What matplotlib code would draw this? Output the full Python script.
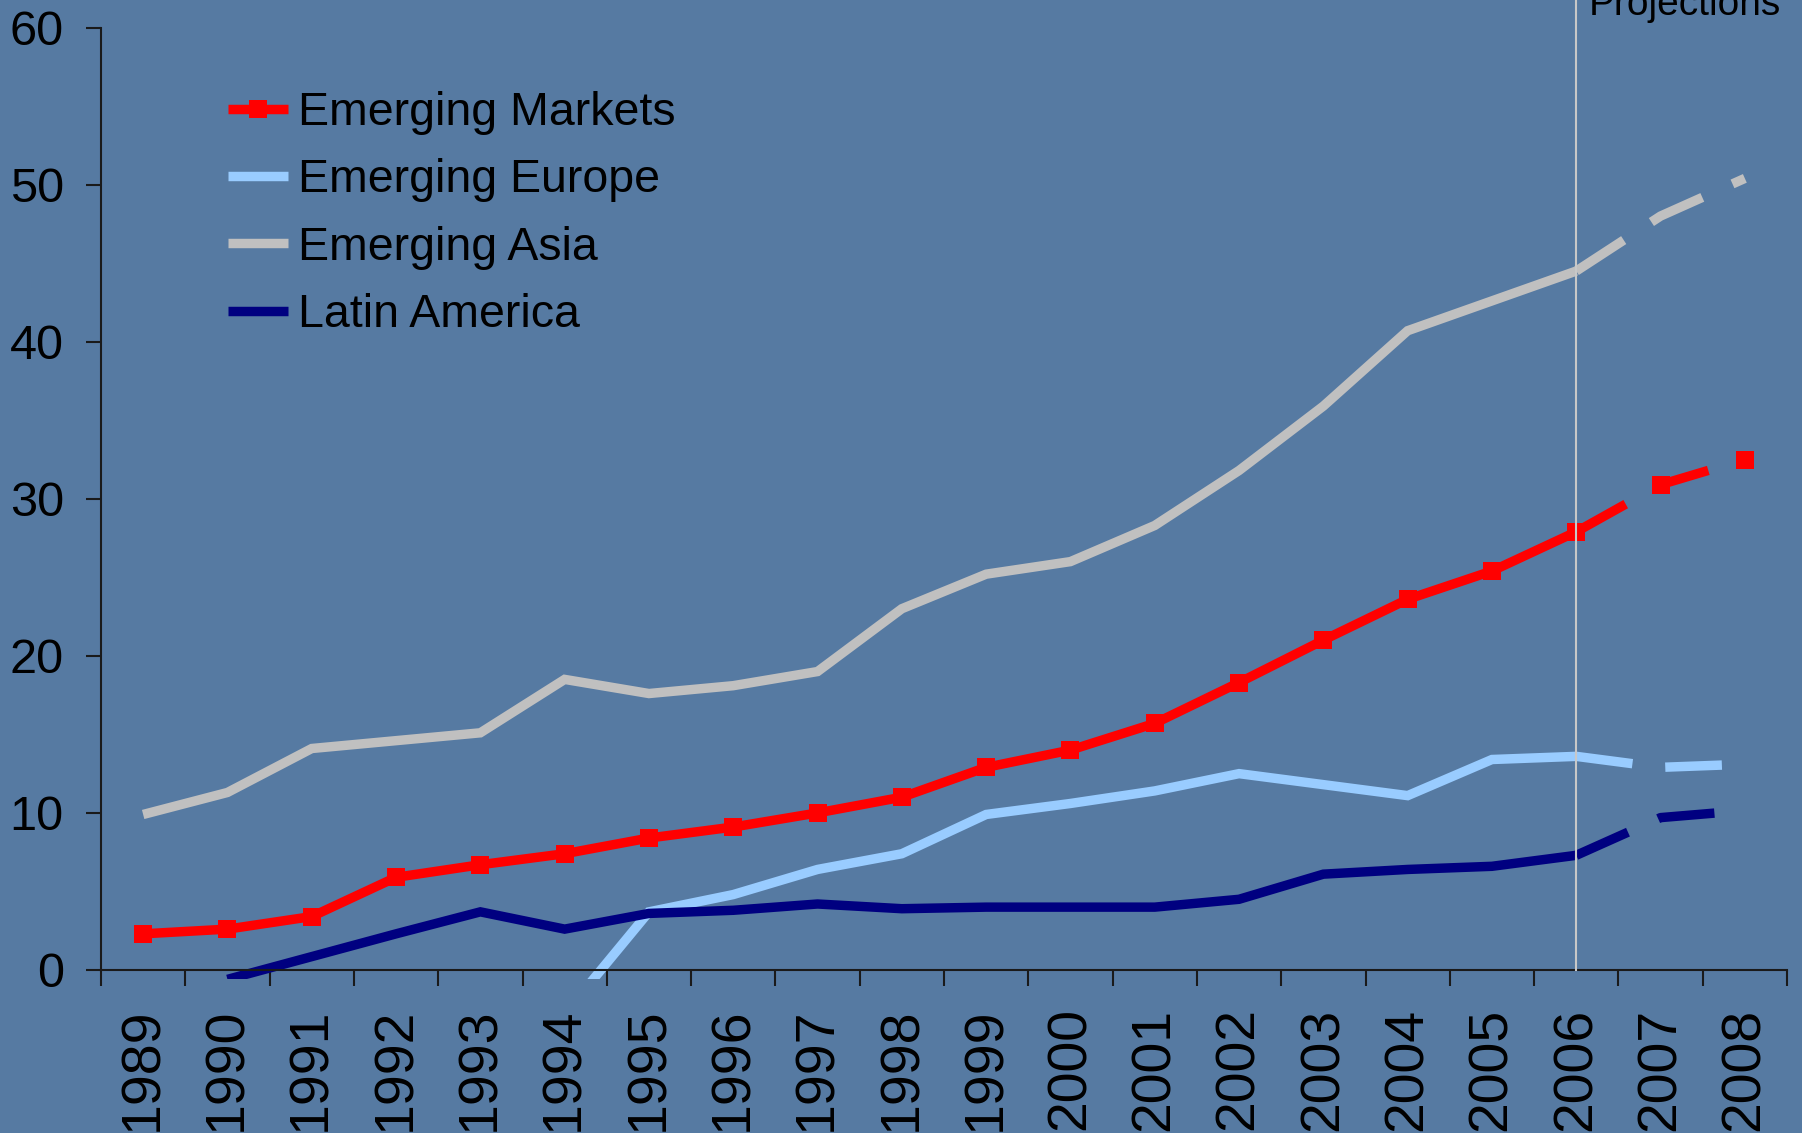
"""Emerging market series 1989-2008 with projections for 2007-2008 (matplotlib only)."""

import numpy as np
import matplotlib

matplotlib.use("Agg")
import matplotlib.pyplot as plt

years = [str(y) for y in range(1989, 2009)]
series_names = ["Emerging Markets", "Emerging Europe", "Emerging Asia", "Latin America"]

emerging_markets = [2.3, 2.6, 3.4, 5.9, 6.7, 7.4, 8.4, 9.1, 10.0, 11.0,
                    12.9, 14.0, 15.7, 18.3, 21.0, 23.6, 25.4, 27.9, 30.9, 32.5]
emerging_europe = [None, None, None, None, None, -2.8, 3.7, 4.8, 6.4, 7.4,
                   9.9, 10.6, 11.4, 12.5, 11.8, 11.1, 13.4, 13.6, 12.9, 13.1]
emerging_asia = [9.9, 11.3, 14.1, 14.6, 15.1, 18.5, 17.6, 18.1, 19.0, 23.0,
                 25.2, 26.0, 28.3, 31.8, 35.9, 40.7, 42.6, 44.5, 48.0, 50.4]
latin_america = [None, -0.6, 0.85, 2.3, 3.7, 2.6, 3.6, 3.8, 4.2, 3.9,
                 4.0, 4.0, 4.0, 4.5, 6.1, 6.4, 6.6, 7.3, 9.7, 10.15]

yticks = [0, 10, 20, 30, 40, 50, 60]
projection_start = "2006"
projection_label = "Projections"

BG = "#567aa2"
COLORS = ["#ff0000", "#99ccff", "#c0c0c0", "#000080"]
FONT = ["Liberation Sans", "DejaVu Sans"]

plt.rcParams["font.family"] = FONT

W, H = 1802, 1133
fig = plt.figure(figsize=(W / 100, H / 100), dpi=100, facecolor=BG)

# axes placed so that 0 sits on the x axis line and the plot clips slightly below it
y_low = -0.55
ax = fig.add_axes([101 / W, 1 - 978.6 / H, 1686 / W, 951 / H])
ax.set_facecolor(BG)

x = np.arange(len(years))
proj = years.index(projection_start)
lw = 6.8

all_series = [emerging_markets, emerging_europe, emerging_asia, latin_america]
for name, values, color in zip(series_names, all_series, COLORS):
    vals = np.array([np.nan if v is None else v for v in values], dtype=float)
    marker = "s" if name == "Emerging Markets" else None
    kw = dict(color=color, lw=lw, marker=marker, markersize=13,
              markeredgewidth=0, solid_joinstyle="miter")
    ax.plot(x[: proj + 1], vals[: proj + 1], label=name, solid_capstyle="butt", **kw)
    ax.plot(x[proj:], vals[proj:], linestyle=(0, (6.0, 3.5)),
            dash_capstyle="butt", **kw)

# vertical marker for the projection period
ax.axvline(proj, ymin=(0 - y_low) / (60 - y_low), ymax=1.03, color="#c8c8c8",
           lw=1.5, clip_on=False, zorder=5)
fig.text(1589 / W, 1 - 15 / H, projection_label, fontsize=28, va="baseline",
         ha="left", color="black")

ax.set_xlim(-0.5, len(years) - 0.5)
ax.set_ylim(y_low, 60)

for side in ["top", "right"]:
    ax.spines[side].set_visible(False)
ax.spines["bottom"].set_position(("data", 0))
ax.spines["left"].set_bounds(0, 60)
for side in ["bottom", "left"]:
    ax.spines[side].set_color("#1a1a1a")
    ax.spines[side].set_linewidth(1.5)

ax.set_yticks(yticks)
ax.set_yticklabels([str(t) for t in yticks])
ax.tick_params(axis="y", direction="out", length=10.8, width=1.5, pad=16,
               labelsize=35, colors="#1a1a1a", labelcolor="black")

ax.set_xticks(np.arange(len(years) + 1) - 0.5)
ax.set_xticklabels([])
ax.tick_params(axis="x", which="major", direction="out", length=11.5, width=1.5,
               colors="#1a1a1a")
ax.set_xticks(x, minor=True)
ax.set_xticklabels(years, minor=True, rotation=90, fontsize=40)
ax.tick_params(axis="x", which="minor", length=0, pad=27, labelcolor="black")

leg = ax.legend(loc="upper left", bbox_to_anchor=(228 / W, 1 - 91 / H),
                bbox_transform=fig.transFigure, frameon=False, fontsize=33.5,
                handlelength=1.3, handletextpad=0.2, labelspacing=0.5,
                borderpad=0, borderaxespad=0)
for text in leg.get_texts():
    text.set_color("black")

fig.savefig("out.png", dpi=100, facecolor=BG)
plt.close(fig)
